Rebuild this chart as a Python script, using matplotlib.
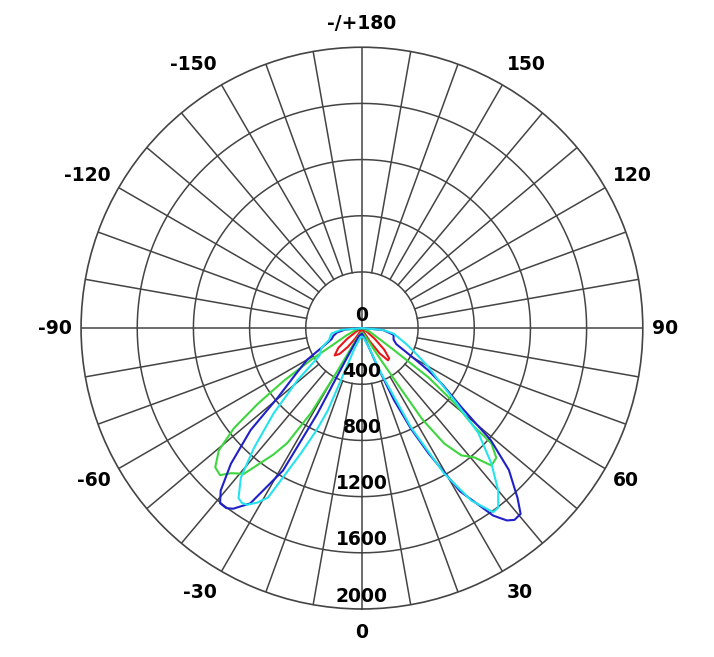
import numpy as np
import matplotlib.pyplot as plt

# luminous intensity (cd) vs angle (deg), C-planes
red_ang = [-90, -65, -58, -54, -50, -45, -41, -37, -33, -29, -20, 0, 20, 27, 31, 35, 39, 42, 46, 50, 54, 60, 90]
red_val = [0, 10, 50, 130, 220, 275, 245, 170, 90, 40, 15, 10, 15, 40, 110, 220, 295, 290, 220, 120, 45, 12, 0]

green_ang = [-90, -75, -65, -61, -58, -56, -54, -52, -49.5, -46.5, -44, -42, -39, -37, -35, -33, -31, -30, -29, -27, -20, 0,
             20, 27, 29, 31, 32.5, 33.5, 35.5, 38, 41, 43.3, 46, 48.3, 48.7, 51, 53.5, 55.5, 58, 65, 90]
green_val = [0, 40, 120, 200, 430, 670, 915, 1155, 1340, 1440, 1455, 1390, 1335, 1205, 1100, 975, 707, 420, 220, 100, 50, 30,
             50, 100, 170, 280, 480, 780, 1010, 1150, 1220, 1345, 1330, 1235, 1065, 850, 590, 280, 150, 60, 0]

blue_ang = [-90, -85, -80, -75, -70, -65, -60, -55, -50.5, -47.5, -44, -41, -39, -37, -35.5, -32.5, -29, -27.5, -27, -25, -20, 0,
            15, 20, 22, 24, 26, 28, 31, 35, 37, 38.5, 40.5, 42.5, 46, 49, 51.5, 55, 57.5, 60, 65, 70, 78, 85, 90]
blue_val = [0, 120, 180, 210, 230, 300, 450, 580, 775, 1075, 1343, 1533, 1605, 1605, 1580, 1480, 1160, 690, 280, 120, 60, 40,
            80, 150, 300, 560, 800, 1010, 1355, 1630, 1715, 1745, 1740, 1640, 1455, 1215, 905, 700, 560, 420, 270, 240, 230, 150, 0]

cyan_ang = [-90, -85, -80, -70, -64, -57, -51, -46, -42, -39, -36, -34.5, -33, -31, -29, -26, -24, -22.5, -21.5, -20, -10, 0,
            10, 20, 23, 26.3, 29.5, 32.4, 35.5, 37.2, 40, 43.7, 48, 52, 56, 60, 65, 70, 80, 85, 90]
cyan_val = [0, 150, 220, 250, 320, 360, 590, 875, 1150, 1370, 1495, 1510, 1500, 1450, 1380, 993, 800, 635, 300, 150, 70, 60,
            70, 150, 350, 790, 1190, 1455, 1610, 1605, 1510, 1335, 1115, 835, 650, 540, 420, 340, 230, 150, 0]

ring_vals = [0, 400, 800, 1200, 1600, 2000]
ang_ticks = [0, 30, 60, 90, 120, 150, 180, -150, -120, -90, -60, -30]
ang_labels = ['0', '30', '60', '90', '120', '150', '-/+180', '-150', '-120', '-90', '-60', '-30']

grid_col = '#444444'

fig = plt.figure(figsize=(7.14, 6.57), dpi=100)
ax = fig.add_axes([0.1134, 0.0731, 0.787, 0.855], projection='polar')
ax.set_theta_zero_location('S')
ax.set_theta_direction(1)
ax.set_ylim(0, 2000)
ax.set_xticks([])
ax.set_yticks([])
ax.grid(False)
ax.spines['polar'].set_color(grid_col)
ax.spines['polar'].set_linewidth(1.2)

# rings
full = np.linspace(0, 2 * np.pi, 361)
for r in ring_vals[1:-1]:
    ax.plot(full, np.full_like(full, r), color=grid_col, lw=1.1, zorder=1)

# spokes every 10 deg, main axes through centre
for a in range(0, 360, 10):
    r0 = 0 if a % 90 == 0 else 400
    ax.plot([np.deg2rad(a)] * 2, [r0, 2000], color=grid_col, lw=1.1, zorder=1)

curves = [(red_ang, red_val, '#e8161b'),
          (green_ang, green_val, '#3ed63e'),
          (blue_ang, blue_val, '#2020c8'),
          (cyan_ang, cyan_val, '#25e3ee')]
for ang, val, col in curves:
    ax.plot(np.deg2rad(ang), val, color=col, lw=1.5, zorder=3)

for r in ring_vals:
    ax.annotate(str(r), xy=(0, r), xytext=(0, 2.5), textcoords='offset points',
                ha='center', va='bottom', fontsize=13.5, fontweight='bold', zorder=4)

# angle labels on a slightly taller ellipse, anchored by the edge facing the circle
rx, ry = 290 / 562, 305 / 562
for a, lab in zip(ang_ticks, ang_labels):
    if a in (0, 180):
        ha = 'center'
    elif a > 0:
        ha = 'left'
    else:
        ha = 'right'
    t = np.deg2rad(a)
    ax.text(0.5 + rx * np.sin(t), 0.5 - ry * np.cos(t), lab, transform=ax.transAxes,
            ha=ha, va='center', fontsize=13.5, fontweight='bold', clip_on=False)

plt.savefig('out.png', dpi=100)
